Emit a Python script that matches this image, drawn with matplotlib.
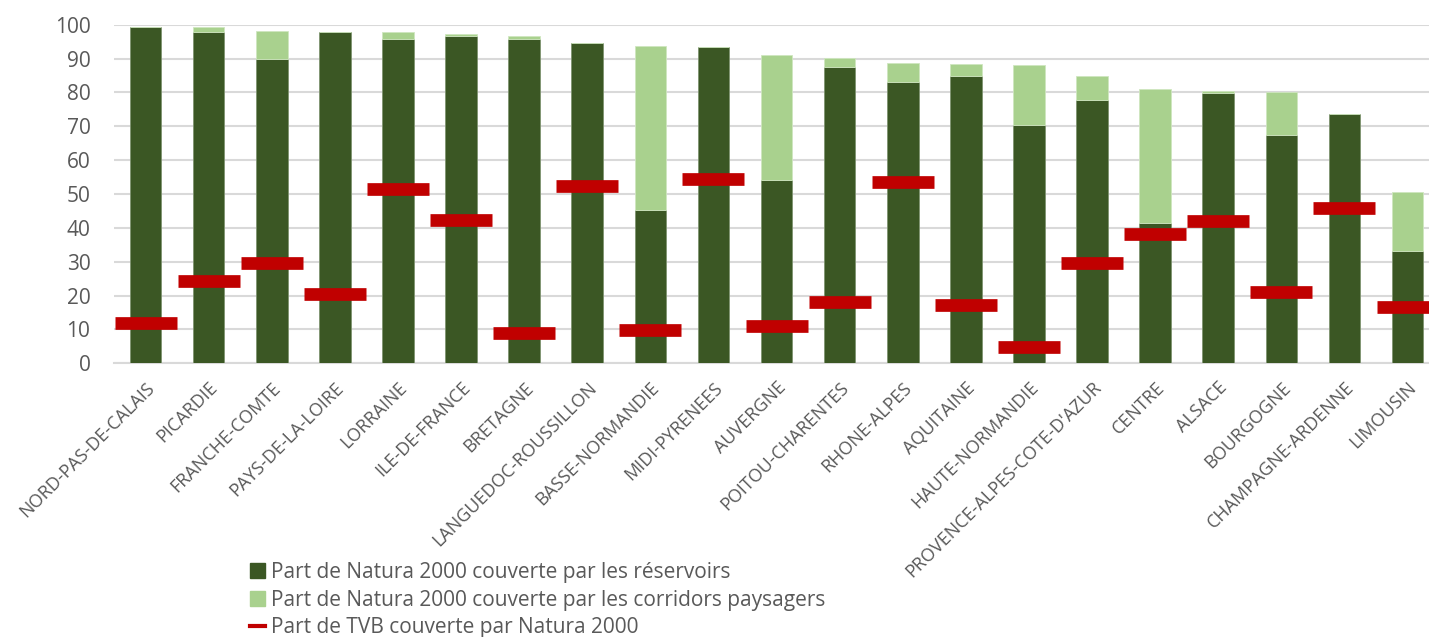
import matplotlib
matplotlib.use("Agg")
import matplotlib.pyplot as plt
from matplotlib.patches import Patch
from matplotlib.lines import Line2D
import numpy as np

regions = ["NORD-PAS-DE-CALAIS", "PICARDIE", "FRANCHE-COMTE", "PAYS-DE-LA-LOIRE",
           "LORRAINE", "ILE-DE-FRANCE", "BRETAGNE", "LANGUEDOC-ROUSSILLON",
           "BASSE-NORMANDIE", "MIDI-PYRENEES", "AUVERGNE", "POITOU-CHARENTES",
           "RHONE-ALPES", "AQUITAINE", "HAUTE-NORMANDIE", "PROVENCE-ALPES-COTE-D'AZUR",
           "CENTRE", "ALSACE", "BOURGOGNE", "CHAMPAGNE-ARDENNE", "LIMOUSIN"]
reservoirs = [99.3, 97.9, 89.9, 97.8, 95.8, 96.8, 95.9, 94.5, 45.4, 93.4, 54.1,
              87.5, 83.2, 84.8, 70.4, 77.9, 41.4, 79.9, 67.3, 73.7, 33.2]
totals = [99.3, 99.3, 98.0, 97.9, 97.8, 97.3, 96.6, 94.5, 93.8, 93.4, 91.0,
          90.2, 88.7, 88.4, 88.1, 84.8, 81.0, 80.3, 80.2, 73.7, 50.7]
corridors = [t - r for t, r in zip(totals, reservoirs)]
tvb = [11.8, 24.2, 29.5, 20.4, 51.4, 42.2, 8.9, 52.3, 9.7, 54.3, 10.9,
       18.0, 53.4, 17.1, 4.7, 29.5, 38.1, 41.9, 21.0, 45.8, 16.5]
yticks = list(range(0, 101, 10))

label_dark = "Part de Natura 2000 couverte par les réservoirs"
label_light = "Part de Natura 2000 couverte par les corridors paysagers"
label_red = "Part de TVB couverte par Natura 2000"

dark = "#3B5724"
light = "#A9D18E"
red = "#C00000"
txt = "#595959"
grid = "#D9D9D9"

plt.rcParams['font.family'] = ['Open Sans', 'DejaVu Sans']

W, H = 1429, 637
fig = plt.figure(figsize=(W / 100, H / 100), dpi=100)
left, right_px = 114, 114 + 21 * 63.1
bottom_px, top_px = 363.3, 24.7
ax = fig.add_axes([left / W, 1 - bottom_px / H, (right_px - left) / W, (bottom_px - top_px) / H])

x = np.arange(len(regions))
ax.bar(x, reservoirs, width=0.5, color=dark, edgecolor="#7F9470", linewidth=0.6, zorder=3)
ax.bar(x, corridors, width=0.5, bottom=reservoirs, color=light, edgecolor="#CFE6C0",
       linewidth=0.6, zorder=3)

ax.plot(x, tvb, ls='none', marker='_', ms=62 * 0.72, mew=12.7 * 0.72, color=red, zorder=4,
        clip_on=False)

ax.set_xlim(-0.5, len(regions) - 0.5)
ax.set_ylim(0, 100)
ax.set_yticks(yticks)
ax.set_yticklabels([str(v) for v in yticks])
ax.yaxis.grid(True, color=grid, linewidth=1.5, zorder=0)
ax.set_axisbelow(True)
for s in ["top", "right", "left"]:
    ax.spines[s].set_visible(False)
ax.spines["bottom"].set_color(grid)
ax.spines["bottom"].set_linewidth(1.5)
ax.tick_params(axis='y', length=0, labelsize=15, labelcolor=txt, pad=17)
ax.tick_params(axis='x', length=0, labelsize=13, labelcolor=txt, pad=11)
ax.set_xticks(x)
ax.set_xticklabels(regions, rotation=45, ha='right', va='top', rotation_mode='anchor')

handles = [Patch(facecolor=dark, edgecolor=dark),
           Patch(facecolor=light, edgecolor=light),
           Line2D([0], [0], color=red, lw=3)]
leg = fig.legend(handles, [label_dark, label_light, label_red],
                 loc='upper left', bbox_to_anchor=(250 / W, 1 - 562 / H),
                 frameon=False, fontsize=15, labelcolor=txt,
                 handlelength=0.7, handleheight=0.7, handletextpad=0.3,
                 labelspacing=0.32, borderaxespad=0, borderpad=0)

fig.savefig("out.png", dpi=100)
